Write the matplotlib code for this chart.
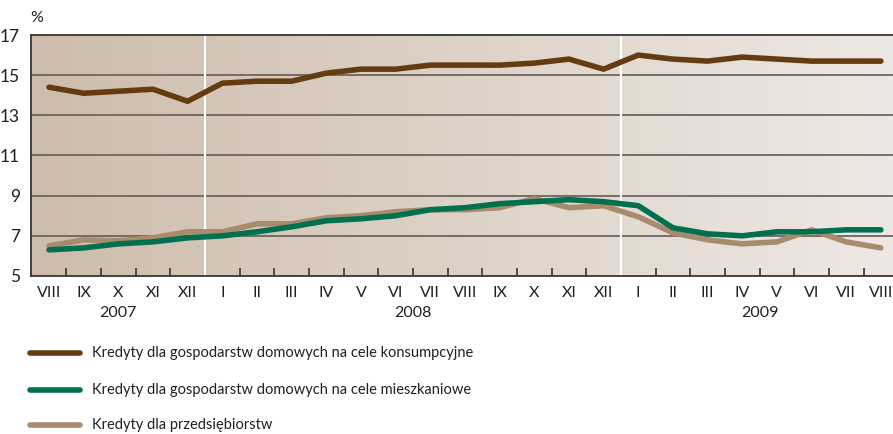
import numpy as np
import matplotlib
matplotlib.use("Agg")
import matplotlib.pyplot as plt
from matplotlib.colors import LinearSegmentedColormap

# --- data ---
months = ['VIII', 'IX', 'X', 'XI', 'XII',
          'I', 'II', 'III', 'IV', 'V', 'VI', 'VII', 'VIII', 'IX', 'X', 'XI', 'XII',
          'I', 'II', 'III', 'IV', 'V', 'VI', 'VII', 'VIII']
years = ['2007', '2008', '2009']
year_len = [5, 12, 8]

konsumpcyjne = [14.4, 14.1, 14.2, 14.3, 13.7,
                14.6, 14.7, 14.7, 15.1, 15.3, 15.3, 15.5, 15.5, 15.5, 15.6, 15.8, 15.3,
                16.0, 15.8, 15.7, 15.9, 15.8, 15.7, 15.7, 15.7]
mieszkaniowe = [6.3, 6.4, 6.6, 6.7, 6.9,
                7.0, 7.2, 7.45, 7.75, 7.85, 8.0, 8.3, 8.4, 8.6, 8.7, 8.8, 8.7,
                8.5, 7.4, 7.1, 7.0, 7.2, 7.2, 7.3, 7.3]
przedsiebiorstwa = [6.5, 6.8, 6.75, 6.9, 7.2,
                    7.2, 7.6, 7.6, 7.9, 8.0, 8.2, 8.3, 8.3, 8.4, 8.85, 8.4, 8.5,
                    7.95, 7.15, 6.8, 6.6, 6.7, 7.3, 6.7, 6.4]

labels = ['Kredyty dla gospodarstw domowych na cele konsumpcyjne',
          'Kredyty dla gospodarstw domowych na cele mieszkaniowe',
          'Kredyty dla przedsiębiorstw']
colors = ['#653c10', '#00704f', '#a88b6d']

plt.rcParams['font.family'] = ['Lato', 'DejaVu Sans']

fig = plt.figure(figsize=(8.93, 4.34), dpi=100)
W, H = 893, 434
ax = fig.add_axes([31 / W, 1 - 276 / H, 862 / W, 241 / H])

x = np.arange(len(months))
xmin, xmax = -0.52, 24.35
ymin, ymax = 5, 17

# gradient background
cmap = LinearSegmentedColormap.from_list('bg', ['#cdbcab', '#ddd2c7', '#eee8e4'])
grad = np.linspace(0, 1, 256).reshape(1, -1)
ax.imshow(grad, extent=[xmin, xmax, ymin, ymax], aspect='auto', cmap=cmap, zorder=0)

for yv in [7, 9, 11, 13, 15]:
    ax.axhline(yv, color='#6b6460', lw=1.3, zorder=1)

# year separators
for b in np.cumsum(year_len)[:-1]:
    ax.axvline(b - 0.5, color='white', lw=1.5, zorder=1)

series = [konsumpcyjne, mieszkaniowe, przedsiebiorstwa]
for vals, c, lab in reversed(list(zip(series, colors, labels))):
    ax.plot(x, vals, color=c, lw=4, solid_capstyle='round', solid_joinstyle='round', label=lab, zorder=3)

ax.set_xlim(xmin, xmax)
ax.set_ylim(ymin, ymax)
ax.set_yticks([5, 7, 9, 11, 13, 15, 17])
ax.tick_params(axis='y', length=0, labelsize=12.5, pad=8, colors='#231f20')

ax.set_xticks(x)
ax.set_xticklabels(months)
ax.tick_params(axis='x', length=0, labelsize=11.5, pad=7, colors='#231f20')
bounds = np.cumsum(year_len)[:-1] - 0.5
minor = [m + 0.5 for m in range(len(months) - 1) if m + 0.5 not in bounds]
ax.set_xticks(minor, minor=True)
ax.tick_params(axis='x', which='minor', direction='in', length=6, width=1.2, color='#3a3431')

for s in ['left', 'bottom', 'top']:
    ax.spines[s].set_color('#3a3431')
    ax.spines[s].set_linewidth(1.3)
ax.spines['right'].set_visible(False)

start = 0
for yr, n in zip(years, year_len):
    center = start + (n - 1) / 2
    ax.text(center, -0.125, yr, transform=ax.get_xaxis_transform(), ha='center', va='top',
            fontsize=11.5, color='#231f20')
    start += n

fig.text(37 / W, 1 - 18 / H, '%', ha='center', va='center', fontsize=11.5, color='#231f20')

# legend
leg_y = [353, 390, 425]
for c, lab, yy in zip(colors, labels, leg_y):
    yf = 1 - yy / H
    fig.add_artist(plt.Line2D([30 / W, 80 / W], [yf, yf], color=c, lw=4, solid_capstyle='round'))
    fig.text(92 / W, yf, lab, ha='left', va='center', fontsize=10.5, color='#231f20')

fig.savefig('out.png', dpi=100)
